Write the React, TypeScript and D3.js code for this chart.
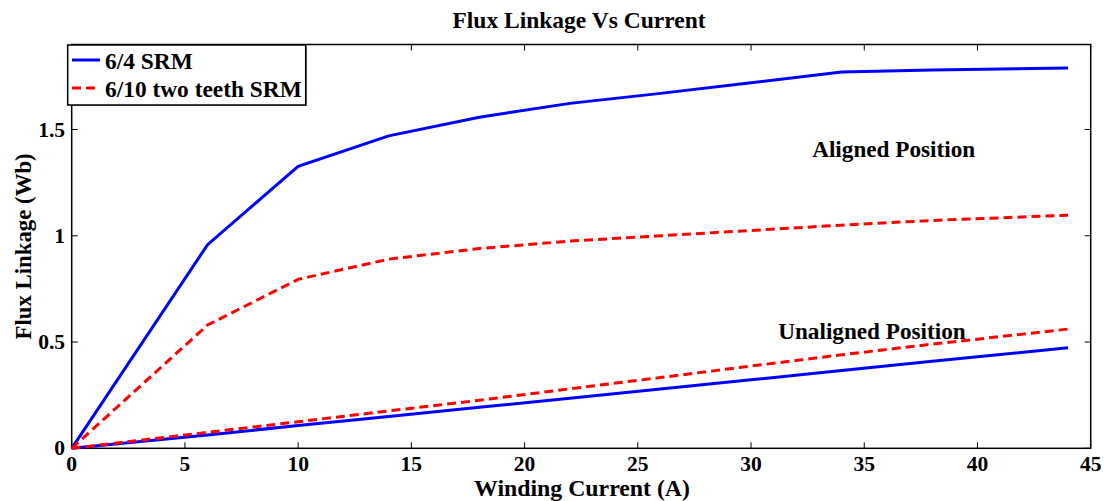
import React from "react";
import * as d3 from "d3";

const current = [0, 6, 10, 14, 18, 22, 26, 30, 34, 38, 44];
const srm64Aligned = [0, 0.958, 1.327, 1.47, 1.558, 1.623, 1.67, 1.72, 1.771, 1.78, 1.789];
const srm610Aligned = [0, 0.58, 0.795, 0.89, 0.94, 0.975, 1.0, 1.025, 1.05, 1.072, 1.097];
const srm64Unaligned = [0, 0.063, 0.107, 0.15, 0.193, 0.236, 0.279, 0.322, 0.366, 0.41, 0.473];
const srm610Unaligned = [0, 0.075, 0.125, 0.176, 0.226, 0.28, 0.333, 0.387, 0.44, 0.49, 0.561];

const xTicks = [0, 5, 10, 15, 20, 25, 30, 35, 40, 45];
const yTicks = [0, 0.5, 1, 1.5];
const yTickLabels = ["0", "0.5", "1", "1.5"];

const seriesNames = ["6/4 SRM", "6/10 two teeth SRM"];
const title = "Flux Linkage Vs Current";
const xTitle = "Winding Current (A)";
const yTitle = "Flux Linkage (Wb)";
const annotations = [
  { text: "Aligned Position", x: 32.7, y: 1.37 },
  { text: "Unaligned Position", x: 31.2, y: 0.5135 },
];

const W = 1112;
const H = 501;
const L = 71.7, R = 1090.7, T = 44.5, B = 448.3;
const FONT = "'Liberation Serif', 'Times New Roman', serif";

export default function App() {
  const x = d3.scaleLinear().domain([0, 45]).range([L, R]);
  const y = d3.scaleLinear().domain([0, 1.9]).range([B, T]);
  const line = d3
    .line<number>()
    .x((_, i) => x(current[i]))
    .y((v) => y(v));

  const blue = "#0000ff";
  const red = "#ff0000";
  const tick = 6;

  return (
    <svg
      width={W}
      height={H}
      style={{ position: "absolute", left: 0, top: 0, background: "#fff" }}
      fontFamily={FONT}
      fontWeight="bold"
    >
      <rect x={0} y={0} width={W} height={H} fill="#fff" />
      {/* frame */}
      <rect x={L} y={T} width={R - L} height={B - T} fill="none" stroke="#000" strokeWidth={1.5} />
      {/* ticks */}
      {xTicks.map((t) => (
        <g key={"xt" + t}>
          <line x1={x(t)} x2={x(t)} y1={B} y2={B - tick} stroke="#000" strokeWidth={1} />
          <line x1={x(t)} x2={x(t)} y1={T} y2={T + tick} stroke="#000" strokeWidth={1} />
          <text x={x(t)} y={471} textAnchor="middle" fontSize={21.5}>
            {t}
          </text>
        </g>
      ))}
      {yTicks.map((t, i) => (
        <g key={"yt" + t}>
          <line x1={L} x2={L + tick} y1={y(t)} y2={y(t)} stroke="#000" strokeWidth={1} />
          <line x1={R} x2={R - tick} y1={y(t)} y2={y(t)} stroke="#000" strokeWidth={1} />
          <text x={65} y={y(t) + 7} textAnchor="end" fontSize={21.5}>
            {yTickLabels[i]}
          </text>
        </g>
      ))}

      {/* data lines */}
      <path d={line(srm64Aligned) || ""} fill="none" stroke={blue} strokeWidth={3} />
      <path d={line(srm64Unaligned) || ""} fill="none" stroke={blue} strokeWidth={3} />
      <path d={line(srm610Aligned) || ""} fill="none" stroke={red} strokeWidth={3} strokeDasharray="9 5" />
      <path d={line(srm610Unaligned) || ""} fill="none" stroke={red} strokeWidth={3} strokeDasharray="9 5" />

      {/* annotations */}
      {annotations.map((a) => (
        <text key={a.text} x={x(a.x)} y={y(a.y)} fontSize={23.2}>
          {a.text}
        </text>
      ))}

      {/* legend */}
      <rect x={69} y={46} width={238} height={60} fill="#888" />
      <rect x={67.7} y={45} width={238} height={60} fill="#fff" stroke="#000" strokeWidth={1.5} />
      <line x1={72} x2={100} y1={60} y2={60} stroke={blue} strokeWidth={3} />
      <line x1={72} x2={98} y1={88} y2={88} stroke={red} strokeWidth={3} strokeDasharray="9 5" />
      <text x={105} y={68.5} fontSize={23.4}>
        {seriesNames[0]}
      </text>
      <text x={105} y={96.5} fontSize={23.4}>
        {seriesNames[1]}
      </text>

      {/* titles */}
      <text x={579} y={28} textAnchor="middle" fontSize={23.5}>
        {title}
      </text>
      <text x={582} y={496} textAnchor="middle" fontSize={23.8}>
        {xTitle}
      </text>
      <text transform={`translate(30.5,${(T + B) / 2}) rotate(-90)`} textAnchor="middle" fontSize={22.8}>
        {yTitle}
      </text>
    </svg>
  );
}
